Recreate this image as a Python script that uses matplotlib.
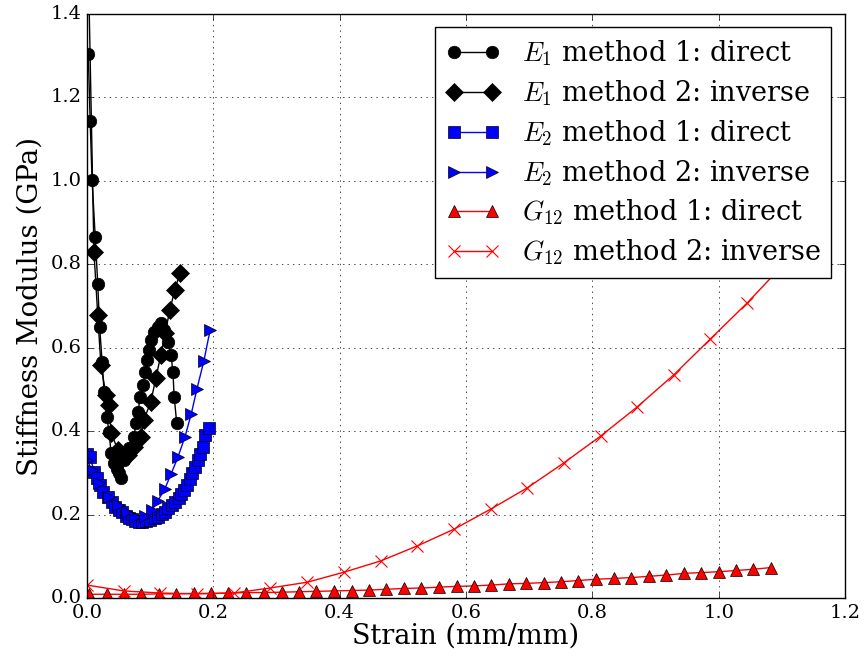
import matplotlib
matplotlib.use("Agg")
import matplotlib.pyplot as plt

# E1 method 1: direct
e1_dir_x = [0.002, 0.005, 0.008, 0.013, 0.017, 0.020, 0.024, 0.027, 0.031, 0.035,
            0.038, 0.043, 0.048, 0.051, 0.054, 0.059, 0.067, 0.074, 0.078, 0.081,
            0.084, 0.089, 0.092, 0.095, 0.098, 0.101, 0.106, 0.112, 0.117, 0.122,
            0.128, 0.133, 0.136, 0.138, 0.142]
e1_dir_y = [1.305, 1.143, 1.002, 0.866, 0.753, 0.650, 0.565, 0.495, 0.435, 0.399,
            0.347, 0.323, 0.310, 0.300, 0.288, 0.331, 0.360, 0.386, 0.420, 0.446,
            0.482, 0.511, 0.542, 0.571, 0.595, 0.619, 0.638, 0.650, 0.659, 0.643,
            0.614, 0.583, 0.542, 0.482, 0.420]

# E1 method 2: inverse
e1_inv_x = [0.001, 0.011, 0.017, 0.022, 0.030, 0.035, 0.038, 0.049, 0.057, 0.065,
            0.074, 0.085, 0.090, 0.101, 0.109, 0.117, 0.124, 0.131, 0.139, 0.147]
e1_inv_y = [1.60, 0.830, 0.678, 0.559, 0.487, 0.463, 0.396, 0.355, 0.343, 0.343,
            0.362, 0.386, 0.427, 0.470, 0.527, 0.583, 0.636, 0.690, 0.738, 0.779]

# E2 method 1: direct
e2_dir_x = [0.000, 0.005, 0.011, 0.016, 0.021, 0.026, 0.033, 0.040, 0.045, 0.050,
            0.055, 0.061, 0.066, 0.071, 0.076, 0.082, 0.087, 0.094, 0.100, 0.107,
            0.112, 0.119, 0.124, 0.129, 0.135, 0.140, 0.145, 0.149, 0.154, 0.158,
            0.163, 0.167, 0.171, 0.176, 0.179, 0.183, 0.187, 0.193]
e2_dir_y = [0.345, 0.339, 0.303, 0.288, 0.271, 0.255, 0.243, 0.231, 0.219, 0.211,
            0.205, 0.197, 0.193, 0.189, 0.185, 0.183, 0.183, 0.185, 0.187, 0.191,
            0.195, 0.201, 0.207, 0.215, 0.223, 0.231, 0.239, 0.249, 0.259, 0.271,
            0.285, 0.299, 0.313, 0.331, 0.345, 0.363, 0.391, 0.407]

# E2 method 2: inverse
e2_inv_x = [0.000, 0.008, 0.019, 0.035, 0.049, 0.063, 0.076, 0.092, 0.103, 0.112,
            0.123, 0.133, 0.144, 0.155, 0.165, 0.174, 0.185, 0.195]
e2_inv_y = [0.330, 0.307, 0.276, 0.242, 0.222, 0.206, 0.194, 0.196, 0.211, 0.233,
            0.261, 0.297, 0.338, 0.386, 0.441, 0.501, 0.568, 0.643]

# G12 method 1: direct
g12_dir_x = [0.003, 0.031, 0.058, 0.086, 0.114, 0.141, 0.169, 0.197, 0.224, 0.252,
             0.280, 0.308, 0.335, 0.363, 0.391, 0.419, 0.446, 0.474, 0.502, 0.529,
             0.557, 0.585, 0.612, 0.640, 0.668, 0.695, 0.723, 0.751, 0.778, 0.806,
             0.834, 0.862, 0.889, 0.917, 0.945, 0.972, 1.000, 1.028, 1.055, 1.083]
g12_dir_y = [0.009, 0.009, 0.009, 0.009, 0.010, 0.010, 0.011, 0.011, 0.012, 0.013,
             0.013, 0.014, 0.015, 0.016, 0.017, 0.018, 0.019, 0.021, 0.023, 0.024,
             0.026, 0.028, 0.029, 0.031, 0.034, 0.035, 0.037, 0.039, 0.042, 0.045,
             0.047, 0.049, 0.052, 0.055, 0.059, 0.061, 0.063, 0.066, 0.069, 0.073]

# G12 method 2: inverse
g12_inv_x = [0.000, 0.058, 0.116, 0.174, 0.232, 0.290, 0.349, 0.407, 0.465, 0.523,
             0.581, 0.639, 0.697, 0.755, 0.813, 0.871, 0.929, 0.987, 1.045, 1.103]
g12_inv_y = [0.031, 0.017, 0.012, 0.010, 0.012, 0.024, 0.038, 0.062, 0.089, 0.125,
             0.165, 0.213, 0.264, 0.324, 0.388, 0.458, 0.535, 0.621, 0.707, 0.800]

plt.style.use("classic")
plt.rcParams["font.family"] = "serif"
plt.rcParams["mathtext.fontset"] = "cm"
plt.rcParams["figure.facecolor"] = "white"
plt.rcParams["savefig.facecolor"] = "white"

fig = plt.figure(figsize=(8.64, 6.63), dpi=100)
ax = fig.add_axes([0.1007, 0.098, 0.8773, 0.881])

ax.plot(e1_dir_x, e1_dir_y, "ko-", markersize=9, label="$E_1$ method 1: direct")
ax.plot(e1_inv_x, e1_inv_y, "kD-", markersize=9, label="$E_1$ method 2: inverse")
ax.plot(e2_dir_x, e2_dir_y, "bs-", markersize=8, label="$E_2$ method 1: direct")
ax.plot(e2_inv_x, e2_inv_y, "b>-", markersize=9, label="$E_2$ method 2: inverse")
ax.plot(g12_dir_x, g12_dir_y, "r^-", markersize=9, label="$G_{12}$ method 1: direct")
ax.plot(g12_inv_x, g12_inv_y, "rx-", markersize=9, markeredgewidth=0.8,
        label="$G_{12}$ method 2: inverse")

ax.set_xlim(0, 1.2)
ax.set_ylim(0, 1.4)
ax.set_xlabel("Strain (mm/mm)", fontsize=19.5, labelpad=0.5)
ax.set_ylabel("Stiffness Modulus (GPa)", fontsize=20)
ax.tick_params(labelsize=14)
ax.grid(True)
ax.legend(loc="upper right", fontsize=19.5, labelspacing=0.38)

fig.savefig("out.png", dpi=100)
